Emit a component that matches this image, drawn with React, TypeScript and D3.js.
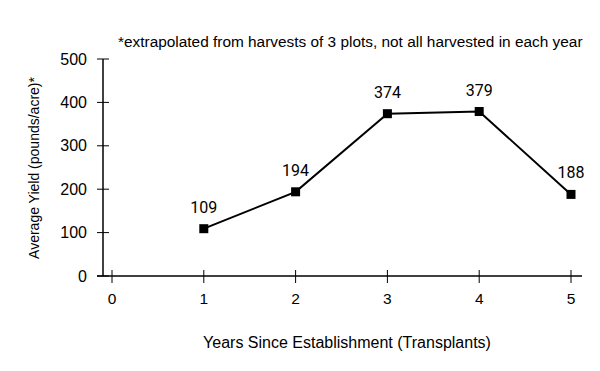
import React from 'react'
import * as d3 from 'd3'

const years = [1, 2, 3, 4, 5]
const yields = [109, 194, 374, 379, 188]
const xTicks = [0, 1, 2, 3, 4, 5]
const yTicks = [0, 100, 200, 300, 400, 500]

const WIDTH = 600
const HEIGHT = 371
const FONT = '"Liberation Sans", Arial, sans-serif'

const App = () => {
  const x = d3.scaleLinear().domain([0, 5]).range([112, 571])
  const y = d3.scaleLinear().domain([0, 500]).range([276, 59])

  const line = d3.line<number>()
    .x((d, i) => x(years[i]))
    .y(d => y(d))

  return (
    <svg
      width={WIDTH}
      height={HEIGHT}
      style={{ position: 'absolute', left: 0, top: 0, background: '#fff' }}
      fontFamily={FONT}
    >
      <text x={118} y={47} fontSize={15.4} fill="#000">
        *extrapolated from harvests of 3 plots, not all harvested in each year
      </text>

      {/* y axis */}
      <line x1={103} x2={103} y1={y(500)} y2={y(0)} stroke="#000" strokeWidth={1.5} />
      {yTicks.map(t => (
        <g key={t}>
          <line x1={97} x2={109} y1={y(t)} y2={y(t)} stroke="#000" strokeWidth={1} />
          <text x={87} y={y(t)} dy="0.35em" textAnchor="end" fontSize={16} fill="#000">{t}</text>
        </g>
      ))}

      {/* x axis */}
      <line x1={97} x2={582} y1={y(0)} y2={y(0)} stroke="#000" strokeWidth={1.5} />
      {xTicks.map(t => (
        <g key={t}>
          <line x1={x(t)} x2={x(t)} y1={270} y2={283} stroke="#000" strokeWidth={1} />
          <text x={x(t)} y={304} textAnchor="middle" fontSize={15.5} fill="#000">{t}</text>
        </g>
      ))}

      <text
        transform={`translate(39,168) rotate(-90)`}
        textAnchor="middle"
        fontSize={14}
        fill="#000"
      >
        Average Yield (pounds/acre)*
      </text>
      <text x={347} y={348} textAnchor="middle" fontSize={16} fill="#000">
        Years Since Establishment (Transplants)
      </text>

      <path d={line(yields) || ''} fill="none" stroke="#000" strokeWidth={2} />
      {yields.map((v, i) => (
        <g key={i}>
          <rect x={x(years[i]) - 4.5} y={y(v) - 4.5} width={9} height={9} fill="#000" />
          <text
            x={x(years[i])}
            y={y(v) - 16}
            textAnchor="middle"
            fontSize={16}
            fontFamily="Roboto, sans-serif"
            fill="#000"
          >
            {v}
          </text>
        </g>
      ))}
    </svg>
  )
}

export default App
